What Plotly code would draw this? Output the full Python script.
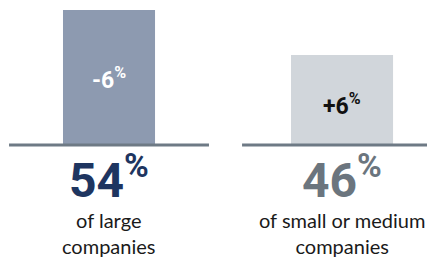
import plotly.graph_objects as go

categories = ["large", "small or medium"]
shares = [54, 46]
changes = ["-6", "+6"]
sub_labels = ["of large<br>companies", "of small or medium<br>companies"]

BASE = 30
bar_colors = ["#8d9ab0", "#d1d6db"]
change_colors = ["#ffffff", "#111111"]
share_colors = ["#1e3560", "#6b757e"]
line_color = "#6e7a85"
bar_widths = [0.395, 0.438]

NUM_FONT = "Liberation Sans Narrow, Roboto, Arial Narrow, sans-serif"
TXT_FONT = "Lato, Noto Sans, sans-serif"

xs = list(range(len(categories)))

fig = go.Figure()
fig.add_trace(go.Bar(
    x=xs, y=[v - BASE for v in shares], base=BASE,
    width=bar_widths, marker=dict(color=bar_colors, line=dict(width=0)),
    hoverinfo="skip",
))

for i, cat in enumerate(categories):
    # baseline
    fig.add_shape(type="line", xref="x", yref="y",
                  x0=i - 0.429, x1=i + 0.429, y0=BASE, y1=BASE,
                  line=dict(color=line_color, width=3), layer="above")
    # change label in bar
    fig.add_annotation(x=i, y=(BASE + shares[i]) / 2, xref="x", yref="y",
                       text=f"<b>{changes[i]}<sup>%</sup></b>", showarrow=False,
                       font=dict(family=NUM_FONT, size=23, color=change_colors[i]),
                       yanchor="middle", yshift=-1 if i == 0 else -4)
    # big share number
    fig.add_annotation(x=i, y=BASE, xref="x", yref="y",
                       text=f"<b>{shares[i]}<sup>%</sup></b>", showarrow=False,
                       font=dict(family=NUM_FONT, size=48, color=share_colors[i]),
                       yanchor="middle", yshift=-32)
    # sub label
    fig.add_annotation(x=i, y=BASE, xref="x", yref="y",
                       text=sub_labels[i], showarrow=False,
                       font=dict(family=TXT_FONT, size=20, color="#1a1a1a"),
                       yanchor="middle", yshift=-88)

fig.update_layout(
    width=427, height=254,
    margin=dict(l=0, r=0, t=0, b=0),
    paper_bgcolor="white", plot_bgcolor="white",
    showlegend=False,
    xaxis=dict(range=[-0.4335, 1.399], visible=False, fixedrange=True),
    yaxis=dict(range=[9.2, 54.356], visible=False, fixedrange=True),
)

fig.write_html("out.html")
